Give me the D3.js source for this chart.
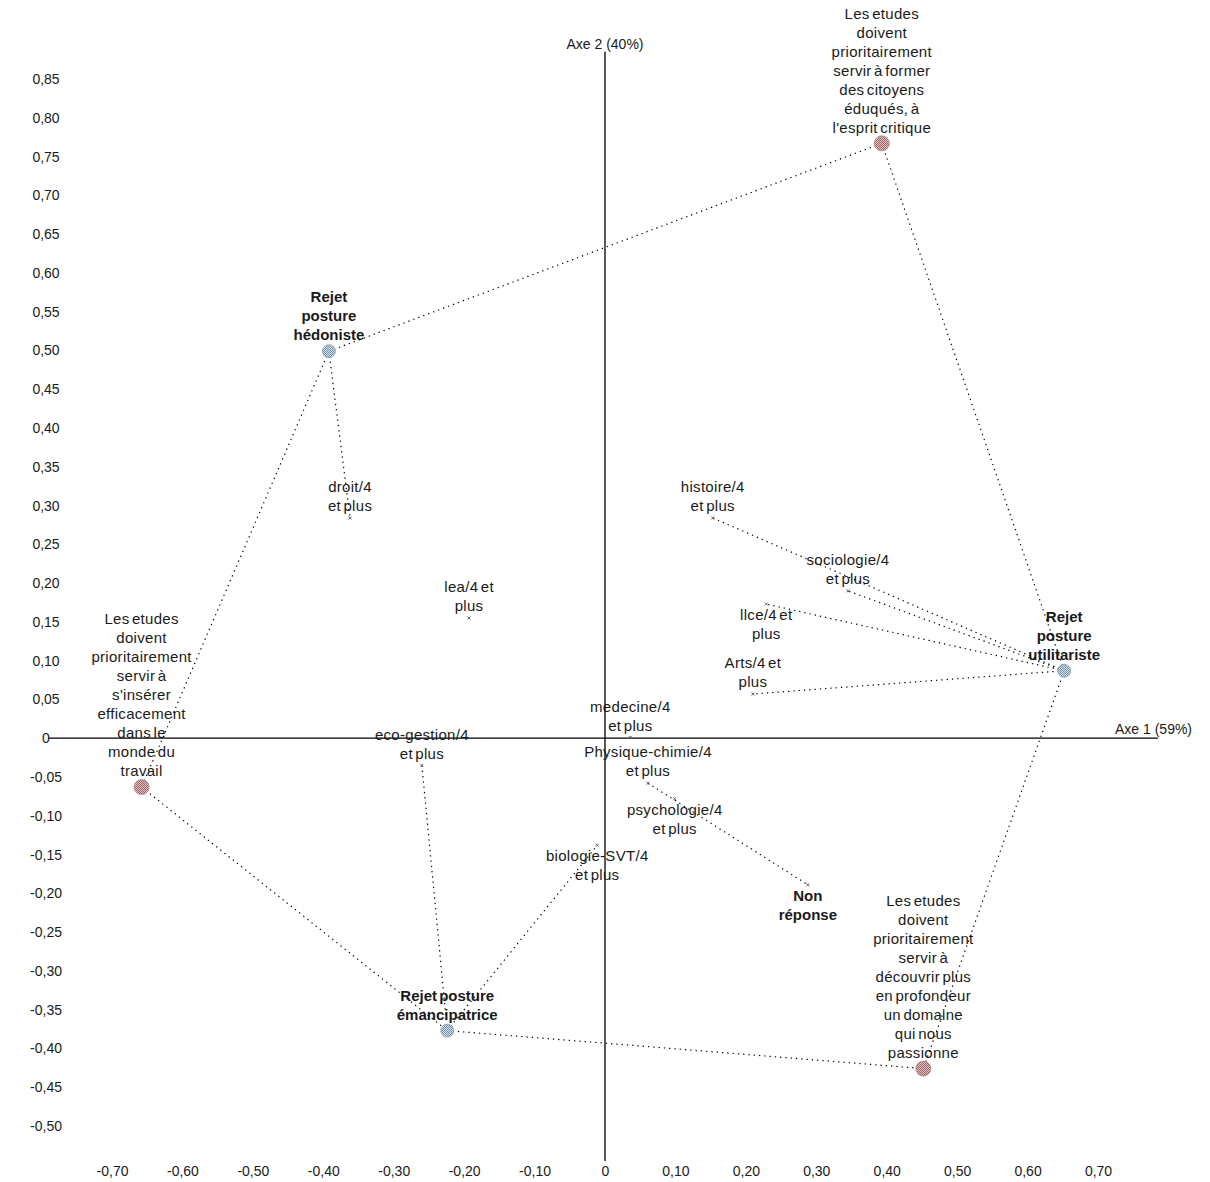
<!DOCTYPE html>
<html><head><meta charset="utf-8">
<script src="https://cdn.jsdelivr.net/npm/d3@7"></script>
<style>
body{margin:0;background:#fff}
svg{display:block}
text{font-family:"Liberation Sans",Arial,sans-serif;fill:#1a1a1a}
</style>
</head><body>
<svg id="chart" width="1210" height="1182"></svg>
<script>
// ---------- data ----------
const pointLabels = [
  "Les etudes\ndoivent\nprioritairement\nservir à former\ndes citoyens\néduqués, à\nl'esprit critique",
  "Les etudes\ndoivent\nprioritairement\nservir à\ns'insérer\nefficacement\ndans le\nmonde du\ntravail",
  "Les etudes\ndoivent\nprioritairement\nservir à\ndécouvrir plus\nen profondeur\nun domaine\nqui nous\npassionne",
  "Rejet\nposture\nhédoniste",
  "Rejet\nposture\nutilitariste",
  "Rejet posture\némancipatrice",
  "Non\nréponse",
  "droit/4\net plus",
  "histoire/4\net plus",
  "sociologie/4\net plus",
  "lea/4 et\nplus",
  "llce/4 et\nplus",
  "Arts/4 et\nplus",
  "medecine/4\net plus",
  "Physique-chimie/4\net plus",
  "psychologie/4\net plus",
  "biologie-SVT/4\net plus",
  "eco-gestion/4\net plus"
];
const axis1Values = [0.393, -0.658, 0.452, -0.392, 0.652, -0.224, 0.288, -0.362, 0.153, 0.345, -0.193, 0.229, 0.210, 0.036, 0.061, 0.099, -0.011, -0.260];
const axis2Values = [0.767, -0.063, -0.426, 0.499, 0.087, -0.377, -0.189, 0.284, 0.284, 0.190, 0.155, 0.173, 0.057, 0.001, -0.058, -0.078, -0.138, -0.035];
const pointGroups = ["finalite","finalite","finalite","rejet","rejet","rejet","nonrep",
  "filiere","filiere","filiere","filiere","filiere","filiere","filiere","filiere","filiere","filiere","filiere"];
const labelSides = ["above","above","above","above","above","above","below",
  "above","above","above","above","below","above","above","above","below","below","above"];
const linkFrom = [3, 3, 3, 0, 4, 1, 5, 5, 5, 4, 4, 4, 4, 14];
const linkTo   = [0, 1, 7, 4, 2, 5, 2, 17, 16, 8, 9, 11, 12, 6];
const xTickValues = [-0.70, -0.60, -0.50, -0.40, -0.30, -0.20, -0.10, 0, 0.10, 0.20, 0.30, 0.40, 0.50, 0.60, 0.70];
const yTickValues = [0.85, 0.80, 0.75, 0.70, 0.65, 0.60, 0.55, 0.50, 0.45, 0.40, 0.35, 0.30, 0.25, 0.20, 0.15, 0.10, 0.05, 0,
  -0.05, -0.10, -0.15, -0.20, -0.25, -0.30, -0.35, -0.40, -0.45, -0.50];
const axisTitle1 = "Axe 1 (59%)";
const axisTitle2 = "Axe 2 (40%)";

// ---------- scales ----------
const svg = d3.select("#chart");
const x = d3.scaleLinear().domain([-0.7, 0.7]).range([112, 1098]);
const y = d3.scaleLinear().domain([-0.5, 0.85]).range([1126, 79]);
const loc = d3.formatLocale({decimal: ",", thousands: " ", grouping: [3], currency: ["", ""], minus: "-"});
const fmt = v => Math.abs(v) < 1e-9 ? "0" : loc.format(".2f")(v);

// patterns for dithered markers
const defs = svg.append("defs");
function pat(id, c1, c2) {
  const p = defs.append("pattern").attr("id", id).attr("width", 2).attr("height", 2)
    .attr("patternUnits", "userSpaceOnUse");
  p.append("rect").attr("width", 2).attr("height", 2).attr("fill", c2);
  p.append("rect").attr("width", 1).attr("height", 1).attr("fill", c1);
  p.append("rect").attr("x", 1).attr("y", 1).attr("width", 1).attr("height", 1).attr("fill", c1);
}
pat("pRed", "#9a6164", "#e2c6c6");
pat("pBlue", "#7390aa", "#d6e1ea");

// ---------- axes ----------
const xAxis = d3.axisBottom(x).tickValues(xTickValues).tickFormat(fmt).tickSize(0).tickPadding(6);
const gx = svg.append("g").attr("transform", "translate(0,1160)").call(xAxis);
gx.select(".domain").remove();
gx.selectAll("text").attr("font-size", 14).attr("font-family", "Liberation Sans, Arial, sans-serif").attr("fill", "#1a1a1a");

const yAxis = d3.axisLeft(y).tickValues(yTickValues).tickFormat(fmt).tickSize(0).tickPadding(0);
const gy = svg.append("g").attr("transform", "translate(46,0)").call(yAxis);
gy.select(".domain").remove();
gy.selectAll("text").attr("font-size", 14).attr("text-anchor", "middle").attr("x", 0)
  .attr("font-family", "Liberation Sans, Arial, sans-serif").attr("fill", "#1a1a1a");

// zero lines
svg.append("line").attr("x1", x(-0.79)).attr("x2", x(0.785)).attr("y1", y(0)).attr("y2", y(0))
  .attr("stroke", "#000").attr("stroke-width", 1.3);
svg.append("line").attr("x1", x(0)).attr("x2", x(0)).attr("y1", y(0.885)).attr("y2", y(-0.545))
  .attr("stroke", "#000").attr("stroke-width", 1.3);
svg.append("text").attr("x", 1115).attr("y", y(0) - 4).attr("font-size", 14).text(axisTitle1);
svg.append("text").attr("x", x(0)).attr("y", 49).attr("text-anchor", "middle").attr("font-size", 14).text(axisTitle2);

// ---------- points ----------
const pts = pointLabels.map((l, i) => ({
  label: l, a1: axis1Values[i], a2: axis2Values[i], g: pointGroups[i], side: labelSides[i]
}));

// labels
const lineH = 19;
pts.forEach(p => {
  const lines = p.label.split("\n");
  const px = x(p.a1), py = y(p.a2);
  const big = p.g === "finalite" || p.g === "rejet";
  let firstCenter;
  if (p.side === "above") {
    firstCenter = py - (big ? 16 : 12) - (lines.length - 1) * lineH;
  } else {
    firstCenter = py + 11;
  }
  const t = svg.append("text").attr("text-anchor", "middle")
    .attr("font-size", 15)
    .attr("font-weight", (p.g === "rejet" || p.g === "nonrep") ? "bold" : "normal")
    .attr("letter-spacing", (p.g === "rejet" || p.g === "nonrep") ? 0 : 0.3)
    .attr("word-spacing", -2);
  lines.forEach((ln, k) => {
    t.append("tspan").attr("x", px).attr("y", firstCenter + k * lineH).attr("dy", "0.35em").text(ln);
  });
});

// links
linkFrom.forEach((f, i) => {
  const a = pts[f], b = pts[linkTo[i]];
  svg.append("line").attr("x1", x(a.a1)).attr("y1", y(a.a2)).attr("x2", x(b.a1)).attr("y2", y(b.a2))
    .attr("stroke", "#000").attr("stroke-width", 1.2).attr("stroke-dasharray", "1.3 4");
});

// markers
pts.forEach(p => {
  const px = x(p.a1), py = y(p.a2);
  if (p.g === "finalite") {
    svg.append("circle").attr("cx", px).attr("cy", py).attr("r", 7.5)
      .attr("fill", "url(#pRed)").attr("stroke", "#b08585").attr("stroke-width", 0.8);
  } else if (p.g === "rejet") {
    svg.append("circle").attr("cx", px).attr("cy", py).attr("r", 6.5)
      .attr("fill", "url(#pBlue)").attr("stroke", "#86a0b6").attr("stroke-width", 0.8);
  } else {
    svg.append("path").attr("d", `M${px-1.5},${py-1.5}L${px+1.5},${py+1.5}M${px-1.5},${py+1.5}L${px+1.5},${py-1.5}`)
      .attr("stroke", "#555").attr("stroke-width", 0.9);
  }
});
</script>
</body></html>
